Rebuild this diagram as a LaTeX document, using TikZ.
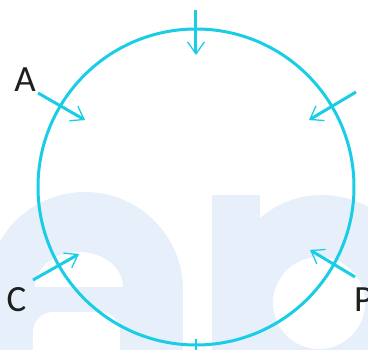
\documentclass[tikz,border=0pt]{standalone}
\usepackage{fontspec}
\setmainfont{Carlito}
\usetikzlibrary{arrows.meta}
\definecolor{ringc}{RGB}{25,205,230}
\definecolor{wmc}{RGB}{231,239,250}
\definecolor{txt}{RGB}{30,30,30}
\begin{document}
\begin{tikzpicture}[x=1pt,y=-1pt,
  ring/.style={draw=ringc, line width=3pt},
  inarrow/.style={draw=ringc, line width=3pt, -{Straight Barb[length=12pt,width=17pt,line width=1.3pt]}},
  lbl/.style={font=\fontsize{37}{40}\selectfont, text=txt, inner sep=0pt, anchor=base},
  wm/.style={fill=wmc}]
\useasboundingbox (0,0) rectangle (368,350);
\clip (0,0) rectangle (368,350);
% faint watermark shapes
\fill[wm] (85,290) circle (98);
\fill[wm] (-13,290) rectangle (183,360);
\begin{scope}
  \clip (30,230) rectangle (130,287);
  \fill[white] (79,287) ellipse (44 and 35);
\end{scope}
\fill[white, rounded corners=20pt] (33,380) -- (33,312) -- (120,312) -- (120,380) -- cycle;
\fill[wm] (212,195) rectangle (260,360);
\fill[wm] (322,290) circle (95);
\fill[wm] (260,290) rectangle (380,360);
\fill[white] (319,303) circle (46);
% ring
\node[ring, circle, minimum size=316pt, inner sep=0pt] (ring) at (196,187) {};
% arrows
\coordinate (t0) at (196,10);  \coordinate (t1) at (196,55);
\coordinate (a0) at (38,93);   \coordinate (a1) at (85,120);
\coordinate (r0) at (356,92);  \coordinate (r1) at (309,120);
\coordinate (c0) at (33,280);  \coordinate (c1) at (79,254);
\coordinate (p0) at (355,277); \coordinate (p1) at (310,250);
\coordinate (b0) at (196,339); \coordinate (b1) at (196,352);
\draw[inarrow] (t0) -- (t1);
\draw[inarrow] (a0) -- (a1);
\draw[inarrow] (r0) -- (r1);
\draw[inarrow] (c0) -- (c1);
\draw[inarrow] (p0) -- (p1);
\draw[ring, line width=2.5pt] (b0) -- (b1);
% labels
\node[lbl] (la) at (25,92) {A};
\node[lbl] (lc) at (16.5,312) {C};
\node[lbl, anchor=base west] (lp) at (354,312) {P};
\end{tikzpicture}
\end{document}
